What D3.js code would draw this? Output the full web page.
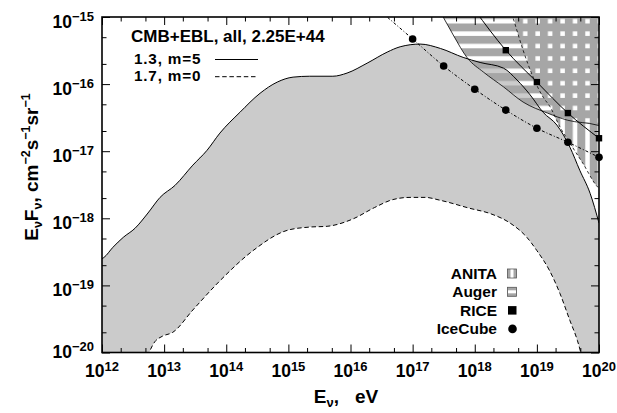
<!DOCTYPE html>
<html>
<head>
<meta charset="utf-8">
<script src="https://cdn.jsdelivr.net/npm/d3@7"></script>
<style>
  body { margin: 0; background: #fff; }
  text { font-family: "Liberation Sans", Arial, Helvetica, sans-serif; font-weight: bold; fill: #000; }
</style>
</head>
<body>
<svg id="chart" width="617" height="413"></svg>
<script>
// upper edge of the band: "1.3, m=5" (solid)
const upperE = [1e12, 1.07e12, 1.5e12, 2.2e12, 3.4e12, 5.5e12, 8.6e12, 1.5e13, 2.9e13, 4.9e13, 7.9e13,
  1.66e14, 3.5e14, 6.6e14, 1.19e15, 2.2e15, 5.2e15, 8.8e15, 1.85e16, 3.9e16, 6.3e16, 1.32e17,
  2.8e17, 6.5e17, 1.22e18, 2.9e18, 4.8e18, 7.8e18, 1.26e19, 2.1e19, 3.4e19, 4.9e19, 7.2e19, 1e20]
const upperF = [2.5e-19, 2.6e-19, 3.7e-19, 5.2e-19, 7.1e-19, 1.2e-18, 2.05e-18, 3.1e-18, 6.2e-18, 1.03e-17, 1.86e-17,
  3.8e-17, 7.3e-17, 1.07e-16, 1.27e-16, 1.31e-16, 1.31e-16, 1.46e-16, 2.05e-16, 3.0e-16, 3.6e-16, 3.95e-16,
  3.4e-16, 2.5e-16, 2.1e-16, 1.73e-16, 1.15e-16, 6.9e-17, 3.8e-17, 2.45e-17, 1.15e-17, 5.2e-18, 2.35e-18, 8.5e-19]

// lower edge of the band: "1.7, m=0" (dashed)
const lowerE = [4.9e12, 7.1e12, 9.3e12, 1.38e13, 2.9e13, 7.9e13, 2.7e14, 9.5e14, 2.2e15, 4.2e15, 1.1e16,
  2.45e16, 4.8e16, 9.1e16, 1.6e17, 2.75e17, 8.3e17, 1.8e18, 3.7e18, 6.9e18, 1e19, 1.6e19,
  2.35e19, 3.4e19, 4.5e19, 5.5e19]
const lowerF = [7e-21, 1.45e-20, 1.74e-20, 2.0e-20, 4.3e-20, 1.17e-19, 3.3e-19, 6.6e-19, 7.4e-19, 7.6e-19, 9.8e-19,
  1.45e-18, 1.9e-18, 2.05e-18, 2.05e-18, 1.86e-18, 1.41e-18, 1.17e-18, 8.5e-19, 5.2e-19, 3.3e-19, 1.66e-19,
  7.6e-20, 3.0e-20, 1.5e-20, 7.6e-21]

// experimental limits
const iceCubeE = [3.16e16, 1e17, 3.16e17, 1e18, 3.16e18, 1e19, 3.16e19, 1e20]
const iceCubeF = [1.18e-15, 4.7e-16, 1.86e-16, 8.4e-17, 4.1e-17, 2.2e-17, 1.36e-17, 8.1e-18]
const riceE = [1e18, 3.16e18, 1e19, 3.16e19, 1e20]
const riceF = [1.27e-15, 3.2e-16, 1.07e-16, 3.7e-17, 1.56e-17]
const augerE = [2e17, 3.1e17, 4.5e17, 7.6e17, 1.38e18, 2.9e18, 6.0e18, 1.48e19, 3.1e19, 9.3e19, 1e20]
const augerF = [1.9e-15, 1e-15, 5.4e-16, 2.45e-16, 1.51e-16, 9.1e-17, 5.4e-17, 3.7e-17, 2.9e-17, 2.45e-17, 2.4e-17]
const anitaE = [3.7e18, 4.1e18, 6.0e18, 8.7e18, 1.26e19, 1.63e19, 2.35e19, 3.4e19, 5.5e19, 9.6e19, 1e20]
const anitaF = [1.35e-15, 1e-15, 3.2e-16, 1.27e-16, 6.4e-17, 4.6e-17, 2.3e-17, 1.32e-17, 6.6e-18, 2.9e-18, 2.8e-18]

const energyExps = [12, 13, 14, 15, 16, 17, 18, 19, 20]
const fluxExps = [-20, -19, -18, -17, -16, -15]
const legendLabels = ["ANITA", "Auger", "RICE", "IceCube"]
const bandLabels = ["1.3, m=5", "1.7, m=0"]
const title = "CMB+EBL, all, 2.25E+44"

const bandGrey = "#cbcbcb"
const stripeGrey = "#a6a6a6"

const svg = d3.select("#chart")

const x = d3.scaleLog().domain([1e12, 1e20]).range([102, 599])
const y = d3.scaleLog().domain([1e-20, 1e-15]).range([352.5, 17])
const [x0, x1] = x.range()
const [y0, y1] = y.range()

const zip = (es, fs) => es.map((e, i) => [e, fs[i]])
const line = d3.line()
  .x(d => x(d[0]))
  .y(d => y(d[1]))
  .curve(d3.curveMonotoneX)

// clip + patterns for the two hatched regions
let defs = svg.append("defs")
defs.append("clipPath")
  .attr("id", "plotClip")
  .append("rect")
  .attr("x", x0).attr("y", y1)
  .attr("width", x1 - x0).attr("height", y0 - y1)

let auger = defs.append("pattern")
  .attr("id", "augerHatch")
  .attr("patternUnits", "userSpaceOnUse")
  .attr("x", 0).attr("y", 23.5)
  .attr("width", 12.4).attr("height", 12.4)
auger.append("rect")
  .attr("width", 12.4).attr("height", 7.9)
  .attr("fill", stripeGrey)

let anita = defs.append("pattern")
  .attr("id", "anitaHatch")
  .attr("patternUnits", "userSpaceOnUse")
  .attr("x", 527.5).attr("y", 0)
  .attr("width", 12.45).attr("height", 12.4)
anita.append("rect")
  .attr("width", 7.95).attr("height", 12.4)
  .attr("fill", stripeGrey)

let plot = svg.append("g").attr("clip-path", "url(#plotClip)")

// grey band between the two model curves
let upper = zip(upperE, upperF)
let lower = zip(lowerE, lowerF).reverse()
let bandPath = line(upper)
  + `L${x1 + 5},${y0 + 20}`
  + line(lower).replace(/^M/, "L")
  + `L${x0 - 5},${y0 + 20}Z`
plot.append("path")
  .attr("d", bandPath)
  .attr("fill", bandGrey)

// excluded regions above the Auger and ANITA limits
function regionAbove(pts) {
  let first = pts[0], last = pts[pts.length - 1]
  return line(pts)
    + `L${x(last[0]) + 10},${y1 - 30}L${x(first[0]) - 10},${y1 - 30}Z`
}
plot.append("path")
  .attr("d", regionAbove(zip(augerE, augerF)))
  .attr("fill", "url(#augerHatch)")
plot.append("path")
  .attr("d", regionAbove(zip(anitaE, anitaF)))
  .attr("fill", "url(#anitaHatch)")

// curves
plot.append("path")
  .attr("d", line(zip(augerE, augerF)))
  .attr("fill", "none").attr("stroke", "#000").attr("stroke-width", 0.8)
plot.append("path")
  .attr("d", line(zip(anitaE, anitaF)))
  .attr("fill", "none").attr("stroke", "#000").attr("stroke-width", 0.8)
  .attr("stroke-dasharray", "3,2.5")
plot.append("path")
  .attr("d", line(zip(riceE, riceF)))
  .attr("fill", "none").attr("stroke", "#000").attr("stroke-width", 1)
plot.append("path")
  .attr("d", line(zip(iceCubeE, iceCubeF)))
  .attr("fill", "none").attr("stroke", "#000").attr("stroke-width", 1)
  .attr("stroke-dasharray", "3,2,1,2")
plot.append("path")
  .attr("d", line(upper))
  .attr("fill", "none").attr("stroke", "#000").attr("stroke-width", 1)
plot.append("path")
  .attr("d", line(zip(lowerE, lowerF)))
  .attr("fill", "none").attr("stroke", "#000").attr("stroke-width", 1)
  .attr("stroke-dasharray", "4.5,2.7")

// markers (not clipped)
let inView = d => d[1] <= 1e-15
svg.append("g").selectAll("rect")
  .data(zip(riceE, riceF).filter(inView))
  .join("rect")
  .attr("x", d => x(d[0]) - 3.2).attr("y", d => y(d[1]) - 3.2)
  .attr("width", 6.4).attr("height", 6.4)
  .attr("fill", "#000")
svg.append("g").selectAll("circle")
  .data(zip(iceCubeE, iceCubeF).filter(inView))
  .join("circle")
  .attr("cx", d => x(d[0])).attr("cy", d => y(d[1]))
  .attr("r", 3.8)
  .attr("fill", "#000")

// axes, ticks pointing inwards on all four sides
let majorX = energyExps.map(e => Math.pow(10, e))
let minorX = energyExps.slice(0, -1).flatMap(e => [2, 5].map(m => m * Math.pow(10, e)))
let majorY = fluxExps.map(e => Math.pow(10, e))
let minorY = fluxExps.slice(0, -1).flatMap(e => [2, 5].map(m => m * Math.pow(10, e)))

function ticks(axis, values, size, transform) {
  svg.append("g")
    .attr("transform", transform)
    .call(axis.tickValues(values).tickSize(size).tickFormat(""))
    .call(g => g.select(".domain").remove())
    .call(g => g.selectAll("line").attr("stroke-width", 1))
}
ticks(d3.axisBottom(x), majorX, -8, `translate(0,${y0})`)
ticks(d3.axisBottom(x), minorX, -4.5, `translate(0,${y0})`)
ticks(d3.axisTop(x), majorX, -8, `translate(0,${y1})`)
ticks(d3.axisTop(x), minorX, -4.5, `translate(0,${y1})`)
ticks(d3.axisLeft(y), majorY, -8, `translate(${x0},0)`)
ticks(d3.axisLeft(y), minorY, -4.5, `translate(${x0},0)`)
ticks(d3.axisRight(y), majorY, -8, `translate(${x1},0)`)
ticks(d3.axisRight(y), minorY, -4.5, `translate(${x1},0)`)

svg.append("rect")
  .attr("x", x0).attr("y", y1)
  .attr("width", x1 - x0).attr("height", y0 - y1)
  .attr("fill", "none").attr("stroke", "#000").attr("stroke-width", 1.6)

// tick labels
let xl = svg.append("g").selectAll("text")
  .data(majorX)
  .join("text")
  .attr("x", d => x(d)).attr("y", 377)
  .attr("text-anchor", "middle")
xl.append("tspan").attr("font-size", 17.5).text("10")
xl.append("tspan").attr("font-size", 13).attr("dy", -6.5)
  .text(d => Math.round(Math.log10(d)))

let yl = svg.append("g").selectAll("text")
  .data(majorY)
  .join("text")
  .attr("x", 94)
  .attr("y", d => y(d) + (d < 1.5e-20 ? 5.5 : 11))
  .attr("text-anchor", "end")
yl.append("tspan").attr("font-size", 17.5).text("10")
yl.append("tspan").attr("font-size", 13).attr("dy", -7)
  .text(d => "\u2212" + Math.abs(Math.round(Math.log10(d))))

// axis titles
let xt = svg.append("text")
  .attr("x", 346).attr("y", 403)
  .attr("text-anchor", "middle")
  .attr("font-size", 19)
xt.append("tspan").text("E")
xt.append("tspan").attr("font-size", 13).attr("dy", 4).text("\u03bd")
xt.append("tspan").attr("dy", -4).text(",\u00a0\u00a0\u00a0eV")

let yt = svg.append("text")
  .attr("transform", "translate(37.5,167) rotate(-90)")
  .attr("text-anchor", "middle")
  .attr("font-size", 19)
const ytParts = [
  ["E", 0], ["\u03bd", 1], ["F", 0], ["\u03bd", 1], [", cm", 0], ["\u22122", -1],
  ["s", 0], ["\u22121", -1], ["sr", 0], ["\u22121", -1]
]
let shift = 0
ytParts.forEach(([t, k]) => {
  let target = k === 1 ? 4 : k === -1 ? -8 : 0
  yt.append("tspan")
    .attr("font-size", k === 0 ? 19 : 12.5)
    .attr("dy", target - shift)
    .text(t)
  shift = target
})

// top-left legend
svg.append("text")
  .attr("x", 131).attr("y", 41.5)
  .attr("font-size", 17)
  .text(title)
let bl = svg.append("g").selectAll("g")
  .data(bandLabels)
  .join("g")
  .attr("transform", (d, i) => `translate(0,${63.5 + i * 17.2})`)
bl.append("text")
  .attr("x", 134)
  .attr("font-size", 15.3)
  .attr("letter-spacing", 0.8)
  .text(d => d)
bl.append("line")
  .attr("x1", 215).attr("x2", 258)
  .attr("y1", -4).attr("y2", -4)
  .attr("stroke", "#000").attr("stroke-width", 1)
  .attr("stroke-dasharray", (d, i) => i ? "4.5,2.7" : null)

// bottom-right legend
let lg = svg.append("g").selectAll("g")
  .data(legendLabels)
  .join("g")
  .attr("transform", (d, i) => `translate(0,${273.5 + i * 18.3})`)
lg.append("text")
  .attr("x", 497).attr("y", 5.4)
  .attr("text-anchor", "end")
  .attr("font-size", 15.5)
  .text(d => d)
lg.each(function(d, i) {
  let g = d3.select(this)
  if (i === 0 || i === 1) {
    g.append("rect")
      .attr("x", 507.5).attr("y", -4.5).attr("width", 9).attr("height", 9)
      .attr("fill", stripeGrey).attr("stroke", "#555").attr("stroke-width", 0.8)
    if (i === 0)
      g.append("rect").attr("x", 510.5).attr("y", -4).attr("width", 3).attr("height", 8).attr("fill", "#fff")
    else
      g.append("rect").attr("x", 508).attr("y", -1.5).attr("width", 8).attr("height", 3).attr("fill", "#fff")
  } else if (i === 2) {
    g.append("rect")
      .attr("x", 508).attr("y", -4).attr("width", 8.5).attr("height", 8.5)
      .attr("fill", "#000")
  } else {
    g.append("circle").attr("cx", 512.5).attr("cy", 0.5).attr("r", 4.3).attr("fill", "#000")
  }
})
</script>
</body>
</html>
